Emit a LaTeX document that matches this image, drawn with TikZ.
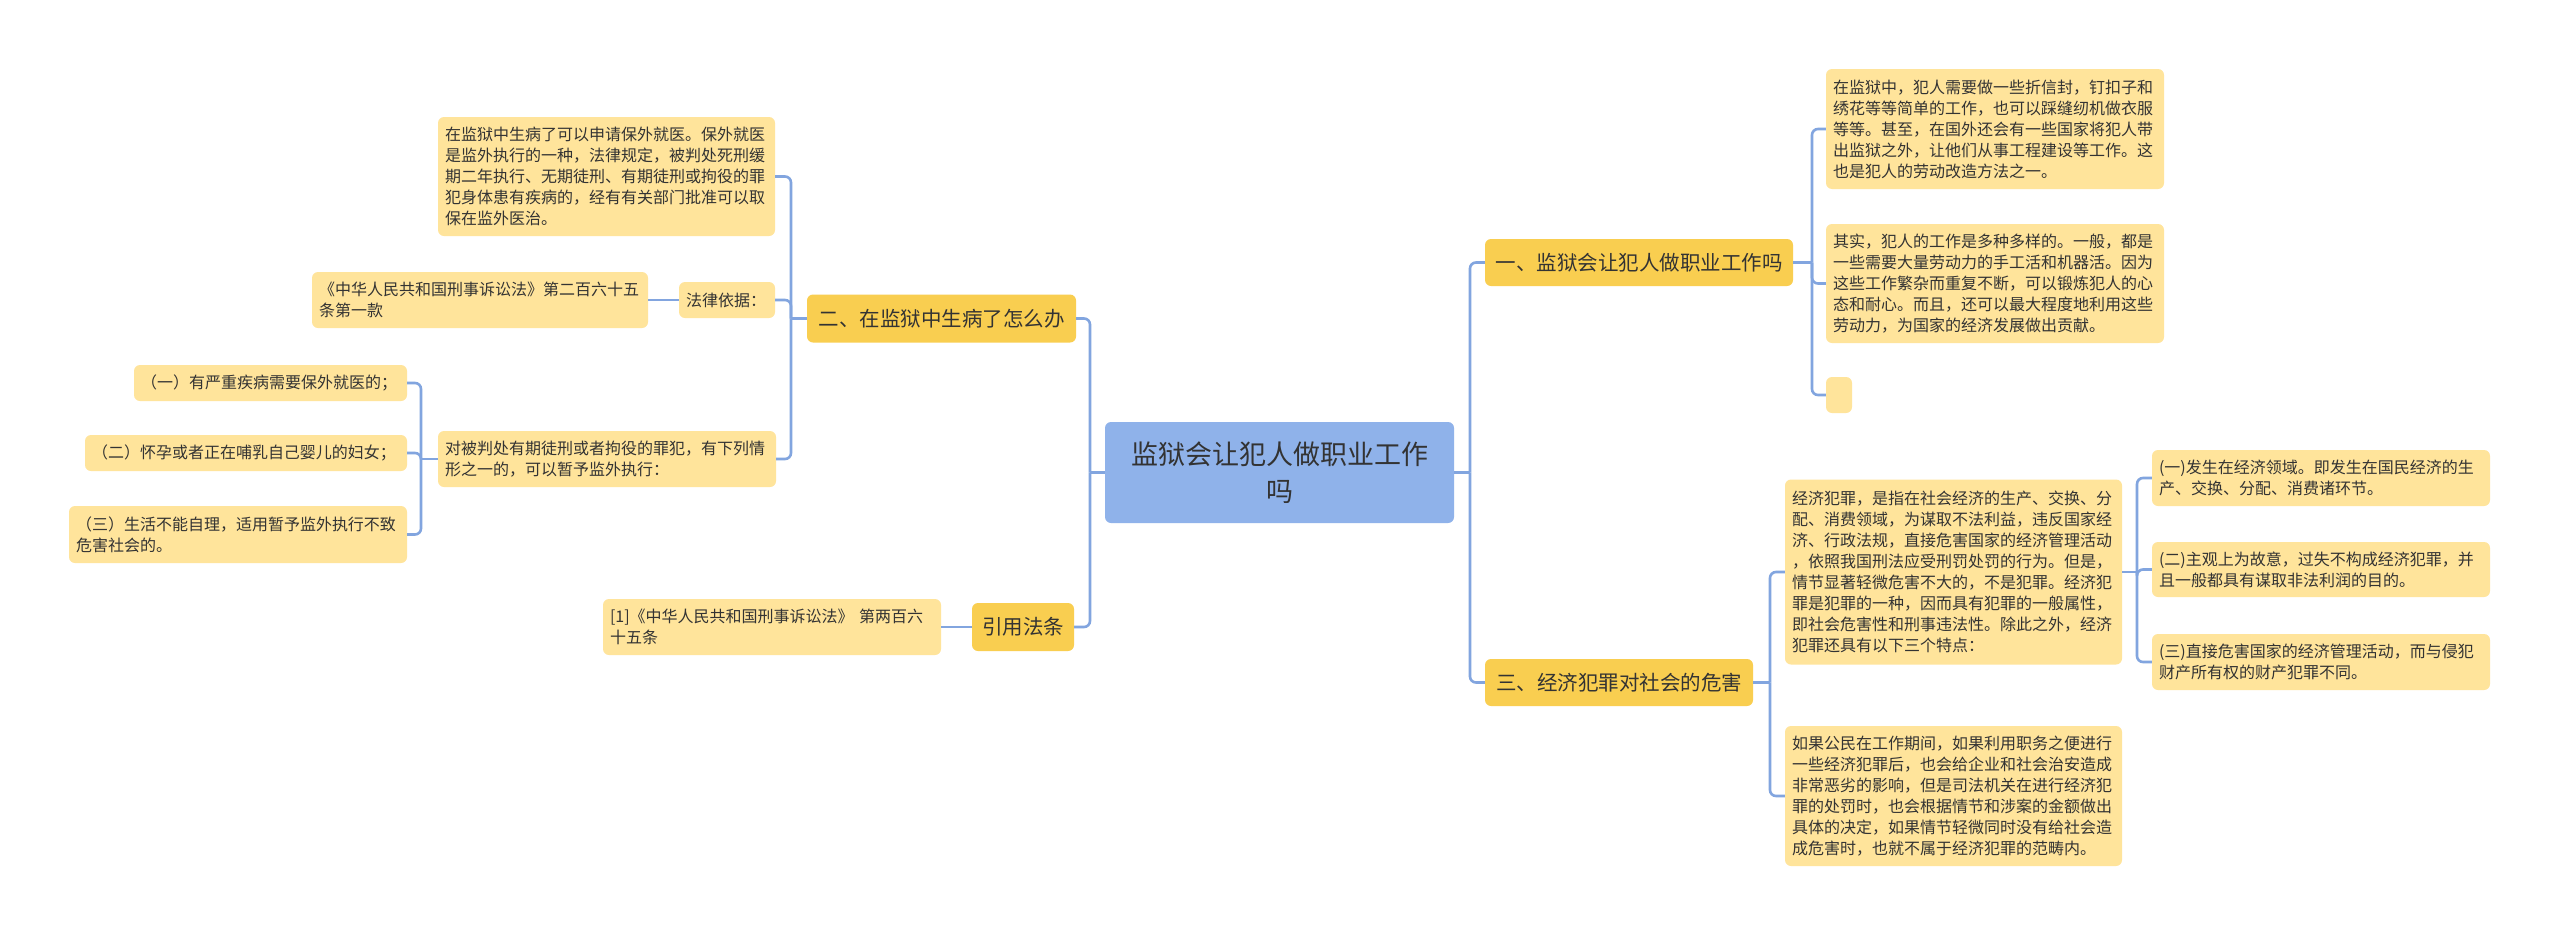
\documentclass[tikz,border=0pt]{standalone}
\usepackage{fontspec}
\setmainfont{Noto Sans CJK SC}
\definecolor{leafc}{HTML}{FFE49B}
\definecolor{branchc}{HTML}{F9CE50}
\definecolor{rootc}{HTML}{8FB2EA}
\definecolor{linec}{HTML}{82A5DF}
\definecolor{textc}{HTML}{333333}
\newcommand\leaffont{\fontsize{16}{21}\selectfont}
\newcommand\branchfont{\fontsize{20.5}{26}\selectfont}
\newcommand\rootfont{\fontsize{27}{37}\selectfont}
\tikzset{
  box/.style={draw=none, rounded corners=6pt, text=textc, inner ysep=0pt, anchor=center},
  leaf/.style={box, fill=leafc, font=\leaffont, align=left, inner xsep=7pt},
  branch/.style={box, fill=branchc, font=\branchfont, align=center, inner xsep=0pt},
  rootbox/.style={box, fill=rootc, font=\rootfont, align=center, inner xsep=0pt},
  conn/.style={draw=linec, line width=2.6pt, rounded corners=6pt},
}
\begin{document}
\begin{tikzpicture}[x=1pt,y=-1pt]
\fill[white] (0,0) rectangle (2560,935);
\useasboundingbox (0,0) rectangle (2560,935);

% trunk coordinates
\coordinate (tRoR) at (1470,0);
\coordinate (tRoL) at (1090,0);
\coordinate (tB2) at (791,0);
\coordinate (tCond) at (421,0);
\coordinate (tB1) at (1812,0);
\coordinate (tB3) at (1770,0);
\coordinate (tE1) at (2137,0);

% root
\node[rootbox, minimum width=349pt, minimum height=101pt] (root) at (1279.5,472.5) {监狱会让犯人做职业工作\\吗};

% left side
\node[branch, minimum width=269pt, minimum height=48pt] (b2) at (941.5,318.5) {二、在监狱中生病了怎么办};
\node[branch, minimum width=102pt, minimum height=48pt] (cite) at (1023,627) {引用法条};

\node[leaf, text width=323pt, minimum height=119pt] (t1) at (606.5,176.5) {在监狱中生病了可以申请保外就医。保外就医\\是监外执行的一种，法律规定，被判处死刑缓\\期二年执行、无期徒刑、有期徒刑或拘役的罪\\犯身体患有疾病的，经有有关部门批准可以取\\保在监外医治。};
\node[leaf, text width=82pt, minimum height=36pt] (law) at (727,300) {法律依据：};
\node[leaf, text width=322pt, minimum height=56pt] (lawref) at (480,300) {《中华人民共和国刑事诉讼法》第二百六十五\\条第一款};
\node[leaf, text width=324pt, minimum height=56pt] (cond) at (607,459) {对被判处有期徒刑或者拘役的罪犯，有下列情\\形之一的，可以暂予监外执行：};
\node[leaf, text width=259pt, minimum height=36pt] (c1) at (270.5,383) {（一）有严重疾病需要保外就医的；};
\node[leaf, text width=308pt, minimum height=36pt] (c2) at (246,453) {（二）怀孕或者正在哺乳自己婴儿的妇女；};
\node[leaf, text width=324pt, minimum height=57pt] (c3) at (238,534.5) {（三）生活不能自理，适用暂予监外执行不致\\危害社会的。};
\node[leaf, text width=324pt, minimum height=56pt] (ref) at (772,627) {[1]《中华人民共和国刑事诉讼法》 第两百六\\十五条};

% right side
\node[branch, minimum width=308pt, minimum height=47pt] (b1) at (1639,262.5) {一、监狱会让犯人做职业工作吗};
\node[branch, minimum width=268pt, minimum height=47pt] (b3) at (1619,682.5) {三、经济犯罪对社会的危害};

\node[leaf, text width=324pt, minimum height=120pt] (r1) at (1995,129) {在监狱中，犯人需要做一些折信封，钉扣子和\\绣花等等简单的工作，也可以踩缝纫机做衣服\\等等。甚至，在国外还会有一些国家将犯人带\\出监狱之外，让他们从事工程建设等工作。这\\也是犯人的劳动改造方法之一。};
\node[leaf, text width=324pt, minimum height=119pt] (r2) at (1995,283.5) {其实，犯人的工作是多种多样的。一般，都是\\一些需要大量劳动力的手工活和机器活。因为\\这些工作繁杂而重复不断，可以锻炼犯人的心\\态和耐心。而且，还可以最大程度地利用这些\\劳动力，为国家的经济发展做出贡献。};
\node[leaf, inner xsep=0pt, minimum width=26pt, minimum height=36pt] (r3) at (1839,395) {};

\node[leaf, text width=323pt, minimum height=185pt] (e1) at (1953.5,572) {经济犯罪，是指在社会经济的生产、交换、分\\配、消费领域，为谋取不法利益，违反国家经\\济、行政法规，直接危害国家的经济管理活动\\，依照我国刑法应受刑罚处罚的行为。但是，\\情节显著轻微危害不大的，不是犯罪。经济犯\\罪是犯罪的一种，因而具有犯罪的一般属性，\\即社会危害性和刑事违法性。除此之外，经济\\犯罪还具有以下三个特点：};
\node[leaf, text width=323pt, minimum height=140pt] (e2) at (1953.5,796) {如果公民在工作期间，如果利用职务之便进行\\一些经济犯罪后，也会给企业和社会治安造成\\非常恶劣的影响，但是司法机关在进行经济犯\\罪的处罚时，也会根据情节和涉案的金额做出\\具体的决定，如果情节轻微同时没有给社会造\\成危害时，也就不属于经济犯罪的范畴内。};
\node[leaf, text width=324pt, minimum height=56pt] (e1a) at (2321,478) {(一)发生在经济领域。即发生在国民经济的生\\产、交换、分配、消费诸环节。};
\node[leaf, text width=324pt, minimum height=55pt] (e1b) at (2321,569.5) {(二)主观上为故意，过失不构成经济犯罪，并\\且一般都具有谋取非法利润的目的。};
\node[leaf, text width=324pt, minimum height=56pt] (e1c) at (2321,662) {(三)直接危害国家的经济管理活动，而与侵犯\\财产所有权的财产犯罪不同。};

% connectors: root right
\draw[conn] (root.east) -- (root.east -| tRoR);
\draw[conn] (root.east -| tRoR) |- (b1.west);
\draw[conn] (root.east -| tRoR) |- (b3.west);
% root left
\draw[conn] (root.west) -- (root.west -| tRoL);
\draw[conn] (root.west -| tRoL) |- (b2.east);
\draw[conn] (root.west -| tRoL) |- (cite.east);
% b2
\draw[conn] (b2.west) -- (b2.west -| tB2);
\draw[conn] (b2.west -| tB2) |- (t1.east);
\draw[conn] (b2.west -| tB2) |- (law.east);
\draw[conn] (b2.west -| tB2) |- (cond.east);
\draw[conn] (law.west) -- (lawref.east);
% cond
\draw[conn] (cond.west) -- (cond.west -| tCond);
\draw[conn] (cond.west -| tCond) |- (c1.east);
\draw[conn] (cond.west -| tCond) |- (c2.east);
\draw[conn] (cond.west -| tCond) |- (c3.east);
% cite
\draw[conn] (cite.west) -- (ref.east);
% b1
\draw[conn] (b1.east) -- (b1.east -| tB1);
\draw[conn] (b1.east -| tB1) |- (r1.west);
\draw[conn] (b1.east -| tB1) |- (r2.west);
\draw[conn] (b1.east -| tB1) |- (r3.west);
% b3
\draw[conn] (b3.east) -- (b3.east -| tB3);
\draw[conn] (b3.east -| tB3) |- (e1.west);
\draw[conn] (b3.east -| tB3) |- (e2.west);
% e1
\draw[conn] (e1.east) -- (e1.east -| tE1);
\draw[conn] (e1.east -| tE1) |- (e1a.west);
\draw[conn] (e1.east -| tE1) |- (e1b.west);
\draw[conn] (e1.east -| tE1) |- (e1c.west);
\end{tikzpicture}
\end{document}
